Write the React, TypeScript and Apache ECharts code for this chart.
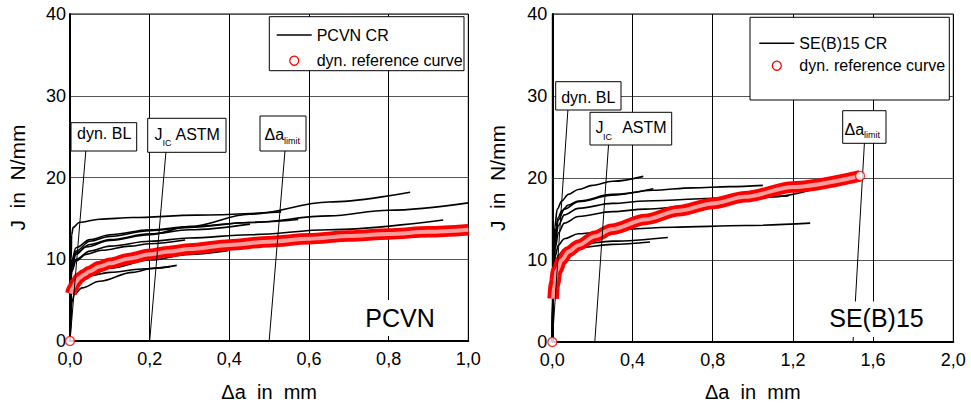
import React, { useEffect, useRef } from 'react';
import * as echarts from 'echarts';

const FONT = "'Liberation Sans', Arial, Helvetica, sans-serif";

// ---- PCVN (left panel) ----
const pcvnXTicks = [0, 0.2, 0.4, 0.6, 0.8, 1.0];
const jTicks = [0, 10, 20, 30, 40];
const pcvnCurveA = [[0, 0], [0.003, 10], [0.004, 13], [0.008, 13.9], [0.023, 14.5], [0.074, 14.9], [0.157, 15.1], [0.316, 15.4], [0.53, 15.8]];
const pcvnCurveB = [[0, 0], [0.004, 9], [0.015, 10.6], [0.04, 11.5], [0.1, 12.3], [0.2, 13.0], [0.3, 14.0], [0.45, 15.5], [0.65, 17.0], [0.854, 18.2]];
const pcvnCurveC = [[0, 0], [0.004, 9.5], [0.015, 11], [0.05, 12.2], [0.1, 12.8], [0.2, 13.5], [0.3, 13.9], [0.45, 14.5], [0.65, 15.3], [0.8, 16.0], [1.0, 16.9]];
const pcvnCurveD = [[0, 0], [0.004, 8.6], [0.015, 10.0], [0.05, 11.0], [0.1, 11.6], [0.2, 12.2], [0.3, 12.6], [0.45, 13.0], [0.65, 13.6], [0.937, 14.8]];
const pcvnCurveE = [[0, 0], [0.004, 9.8], [0.015, 11.4], [0.05, 12.4], [0.1, 13.0], [0.2, 13.6], [0.3, 14.0], [0.45, 14.5], [0.573, 14.86]];
const pcvnCurveF = [[0, 0], [0.004, 9.2], [0.015, 10.8], [0.05, 11.8], [0.1, 12.4], [0.2, 13.1], [0.3, 13.6], [0.452, 14.3]];
const pcvnCurveG = [[0, 0], [0.004, 8.5], [0.015, 9.8], [0.04, 10.6], [0.08, 11.1], [0.15, 11.6], [0.2, 11.9], [0.289, 12.35]];
const pcvnCurveH = [[0, 0], [0.004, 6], [0.02, 7.2], [0.05, 8.0], [0.1, 8.9], [0.2, 9.9], [0.3, 10.6], [0.396, 11.05]];
const pcvnCurveI = [[0, 0], [0.005, 4.8], [0.011, 5.7], [0.03, 6.5], [0.074, 7.3], [0.157, 8.4], [0.208, 8.9], [0.268, 9.25]];
const pcvnCurveJ = [[0, 0], [0.004, 6.5], [0.015, 7.4], [0.05, 8.0], [0.1, 8.4], [0.18, 8.8], [0.251, 9.1]];
const pcvnReference = [[0.002, 5.8], [0.007, 6.5], [0.015, 7.2], [0.023, 7.7], [0.035, 8.1], [0.048, 8.5], [0.074, 9.1], [0.1, 9.5], [0.15, 10.1], [0.2, 10.6], [0.25, 10.95], [0.3, 11.25], [0.4, 11.75], [0.5, 12.15], [0.6, 12.5], [0.7, 12.85], [0.8, 13.1], [0.9, 13.35], [1.0, 13.6]];
const pcvnRefMarks = [[0, 0]];
const pcvnBlunting = [[0, 0], [0.04, 23.4]];
const pcvnJicLine = [[0.2, 0], [0.241, 23.2]];
const pcvnLimitLine = [[0.5, 0], [0.54, 23.4]];

// ---- SE(B)15 (right panel) ----
const sebXTicks = [0, 0.4, 0.8, 1.2, 1.6, 2.0];
const sebCurve1 = [[0, 0], [0.005, 10], [0.012, 14], [0.025, 16.2], [0.047, 17.2], [0.08, 18.0], [0.13, 18.6], [0.2, 19.1], [0.3, 19.6], [0.454, 20.2]];
const sebCurve2 = [[0, 0], [0.006, 10], [0.015, 13.5], [0.03, 15.2], [0.047, 16.0], [0.08, 16.7], [0.13, 17.2], [0.3, 18.0], [0.504, 18.7]];
const sebCurve3 = [[0, 0], [0.006, 9.5], [0.015, 13], [0.03, 14.9], [0.06, 16.2], [0.13, 17.1], [0.3, 17.9], [0.5, 18.5], [0.7, 18.8], [0.886, 18.95], [1.05, 19.1]];
const sebCurve4 = [[0, 0], [0.006, 8.5], [0.015, 11.5], [0.03, 13.3], [0.06, 14.5], [0.13, 15.3], [0.3, 15.9], [0.463, 16.2], [0.7, 16.6], [0.886, 17.0], [1.1, 17.7], [1.286, 18.5]];
const sebCurve5 = [[0, 0], [0.006, 9], [0.015, 12.3], [0.03, 14.2], [0.06, 15.5], [0.13, 16.3], [0.3, 16.9], [0.463, 17.2], [0.886, 17.6], [1.178, 17.8]];
const sebCurve6 = [[0, 0], [0.006, 8], [0.015, 10.5], [0.03, 11.8], [0.06, 12.6], [0.13, 13.2], [0.3, 13.7], [0.6, 14.0], [0.96, 14.2], [1.286, 14.5]];
const sebCurve7 = [[0, 0], [0.006, 7.5], [0.015, 9.5], [0.03, 10.6], [0.06, 11.3], [0.13, 11.9], [0.3, 12.3], [0.576, 12.75]];
const sebCurve8 = [[0, 0], [0.006, 7], [0.015, 9], [0.03, 10.2], [0.06, 10.9], [0.13, 11.5], [0.3, 11.9], [0.487, 12.2]];
const sebReference = [[0.004, 5.3], [0.011, 7.1], [0.022, 8.7], [0.047, 10.0], [0.08, 11.0], [0.13, 11.8], [0.213, 12.9], [0.296, 13.75], [0.463, 14.95], [0.63, 16.0], [0.8, 16.9], [0.96, 17.7], [1.2, 18.9], [1.535, 20.25]];
const sebRefMarks = [[0, 0], [1.535, 20.25]];
const sebBlunting = [[0, 0], [0.078, 28.4]];
const sebJicLine = [[0.212, 0], [0.281, 24.2]];
const sebLimitLine = [[1.5, 0], [1.557, 24.4]];

const pcvnCurves = [pcvnCurveA, pcvnCurveB, pcvnCurveC, pcvnCurveD, pcvnCurveE, pcvnCurveF, pcvnCurveG, pcvnCurveH, pcvnCurveI, pcvnCurveJ];
const sebCurves = [sebCurve1, sebCurve2, sebCurve3, sebCurve4, sebCurve5, sebCurve6, sebCurve7, sebCurve8];

const REF = 'dyn. reference curve';

function curveSeries(name: string, data: number[][], idx: number) {
  return {
    type: 'line', name, xAxisIndex: idx, yAxisIndex: idx, data,
    symbol: 'none', smooth: 0.35, smoothMonotone: 'x', silent: true, z: 2,
    lineStyle: { color: '#000', width: 1.6 }, itemStyle: { color: '#000' },
  };
}
function refSeries(data: number[][], idx: number) {
  return [
    {
      type: 'line', name: REF, xAxisIndex: idx, yAxisIndex: idx, data,
      symbol: 'none', smooth: 0.3, smoothMonotone: 'x', silent: true, z: 3,
      lineStyle: { color: '#ff0000', width: 11.5 }, itemStyle: { color: '#ff0000' },
    },
    {
      type: 'line', name: 'ref-inner-' + idx, xAxisIndex: idx, yAxisIndex: idx, data,
      symbol: 'none', smooth: 0.3, smoothMonotone: 'x', silent: true, z: 4,
      lineStyle: { color: '#ff9c9c', width: 4 },
    },
  ];
}
function markSeries(data: number[][], idx: number) {
  return {
    type: 'scatter', name: REF, xAxisIndex: idx, yAxisIndex: idx, data,
    symbol: 'circle', symbolSize: 9, silent: true, z: 5, clip: true,
    itemStyle: { color: '#fff', borderColor: '#ff0000', borderWidth: 1.3 },
  };
}
function guideSeries(name: string, data: number[][], idx: number) {
  return {
    type: 'line', name, xAxisIndex: idx, yAxisIndex: idx, data,
    symbol: 'none', silent: true, z: 5, clip: false,
    lineStyle: { color: '#000', width: 1 },
  };
}

const fmt = (v: number) => v.toFixed(1).replace('.', ',');

function xAxis(idx: number, ticks: number[], gap: number) {
  return {
    type: 'value', gridIndex: idx, min: ticks[0], max: ticks[ticks.length - 1], interval: ticks[1] - ticks[0],
    name: 'Δa  in  mm', nameLocation: 'middle', nameGap: gap,
    nameTextStyle: { fontFamily: FONT, fontSize: 20, color: '#000' },
    axisLine: { lineStyle: { color: '#000', width: 2 } },
    axisTick: { show: false },
    axisLabel: { formatter: fmt, fontFamily: FONT, fontSize: 18, color: '#000', margin: 9 },
    splitLine: { show: true, lineStyle: { color: '#000', width: 1 } },
  };
}
function yAxis(idx: number, gap: number, margin: number) {
  return {
    type: 'value', gridIndex: idx, min: jTicks[0], max: jTicks[jTicks.length - 1], interval: jTicks[1] - jTicks[0],
    name: 'J  in  N/mm', nameLocation: 'middle', nameGap: gap,
    nameTextStyle: { fontFamily: FONT, fontSize: 21, color: '#000' },
    axisLine: { lineStyle: { color: '#000', width: 2 } },
    axisTick: { show: false },
    axisLabel: { fontFamily: FONT, fontSize: 18, color: '#000', margin },
    splitLine: { show: true, lineStyle: { color: '#555', width: 1 } },
  };
}

function box(x: number, y: number, w: number, h: number, z = 6) {
  return { type: 'rect', z, silent: true, shape: { x, y, width: w, height: h }, style: { fill: '#fff', stroke: '#000', lineWidth: 1 } };
}
function whiteBox(x: number, y: number, w: number, h: number) {
  return { type: 'rect', z: 6, silent: true, shape: { x, y, width: w, height: h }, style: { fill: '#fff', stroke: null } };
}
function txt(text: string, x: number, y: number, size: number, align = 'left') {
  return {
    type: 'text', z: 7, silent: true, x, y,
    style: {
      text, fill: '#000', fontFamily: FONT, fontSize: size,
      align, textAlign: align, verticalAlign: 'middle', textVerticalAlign: 'middle',
    },
  };
}

function legend(left: number, top: number, gap: number, cr: string) {
  return {
    show: true, orient: 'vertical', left, top, padding: 0, itemGap: gap, z: 10, align: 'left',
    itemWidth: 35, itemHeight: 9, selectedMode: false,
    textStyle: { fontFamily: FONT, fontSize: 16, color: '#000', lineHeight: 16 },
    data: [
      { name: cr, icon: 'path://M0,0L35,0L35,1.6L0,1.6Z', itemStyle: { color: '#000', borderWidth: 0 } },
      { name: REF, icon: 'circle', itemStyle: { color: '#fff', borderColor: '#ff0000', borderWidth: 1.3 } },
    ],
  };
}

export default function App() {
  const ref = useRef<HTMLDivElement>(null);
  useEffect(() => {
    if (!ref.current) return;
    const chart = echarts.init(ref.current, undefined, { renderer: 'svg' });
    const series: any[] = [];
    pcvnCurves.forEach((c) => series.push(curveSeries('PCVN CR', c, 0)));
    sebCurves.forEach((c) => series.push(curveSeries('SE(B)15 CR', c, 1)));
    series.push(...refSeries(pcvnReference, 0));
    series.push(...refSeries(sebReference, 1));
    series.push(markSeries(pcvnRefMarks, 0));
    series.push(markSeries(sebRefMarks, 1));
    series.push(guideSeries('dyn. BL', pcvnBlunting, 0));
    series.push(guideSeries('JIC ASTM', pcvnJicLine, 0));
    series.push(guideSeries('Δa limit', pcvnLimitLine, 0));
    series.push(guideSeries('dyn. BL', sebBlunting, 1));
    series.push(guideSeries('JIC ASTM', sebJicLine, 1));
    series.push(guideSeries('Δa limit', sebLimitLine, 1));

    chart.setOption({
      animation: false,
      backgroundColor: '#fff',
      textStyle: { fontFamily: FONT },
      grid: [
        { left: 70, top: 14, width: 398.3, height: 329.3, show: true, borderColor: '#000', borderWidth: 1, containLabel: false },
        { left: 552.3, top: 14, width: 401, height: 332, show: true, borderColor: '#000', borderWidth: 1, containLabel: false },
      ],
      xAxis: [xAxis(0, pcvnXTicks, 41), xAxis(1, sebXTicks, 40)],
      yAxis: [yAxis(0, 42, 4), yAxis(1, 44, 5)],
      legend: [legend(276.7, 27, 9.7, 'PCVN CR'), legend(759.3, 35.3, 6.4, 'SE(B)15 CR')],
      series,
      graphic: [
        // legend frames
        box(269.3, 16.7, 194.7, 54, 6),
        box(750, 17.3, 199.3, 82.7, 6),
        // left annotations
        box(71, 122.7, 65.7, 28.3),
        txt('dyn. BL', 104.2, 133.5, 16, 'center'),
        box(147.7, 118.3, 78.3, 34),
        txt('J', 154.5, 134.3, 16),
        txt('IC', 162.5, 143.2, 9),
        txt('ASTM', 175.5, 134.3, 16),
        box(260, 116, 46, 35),
        txt('Δa', 264.5, 134.5, 16),
        txt('limit', 284, 140.9, 9),
        whiteBox(363, 300, 76, 36),
        txt('PCVN', 400, 318.3, 25, 'center'),
        // right annotations
        box(555.7, 81.7, 65.3, 28.3),
        txt('dyn. BL', 588.3, 97.3, 16, 'center'),
        box(590, 112.3, 81.7, 32.7),
        txt('J', 595.5, 127.5, 16),
        txt('IC', 603, 136.9, 9),
        txt('ASTM', 622.2, 127.5, 16),
        box(842.7, 110.7, 43.3, 32.6),
        txt('Δa', 844.5, 129.5, 16),
        txt('limit', 864, 135.4, 9),
        whiteBox(826, 301.5, 101, 35.5),
        txt('SE(B)15', 876.5, 318.3, 25, 'center'),
      ],
    });
    return () => chart.dispose();
  }, []);
  return (
    <div
      ref={ref}
      style={{ position: 'fixed', left: 0, top: 0, width: 971, height: 407, background: '#fff' }}
    />
  );
}
